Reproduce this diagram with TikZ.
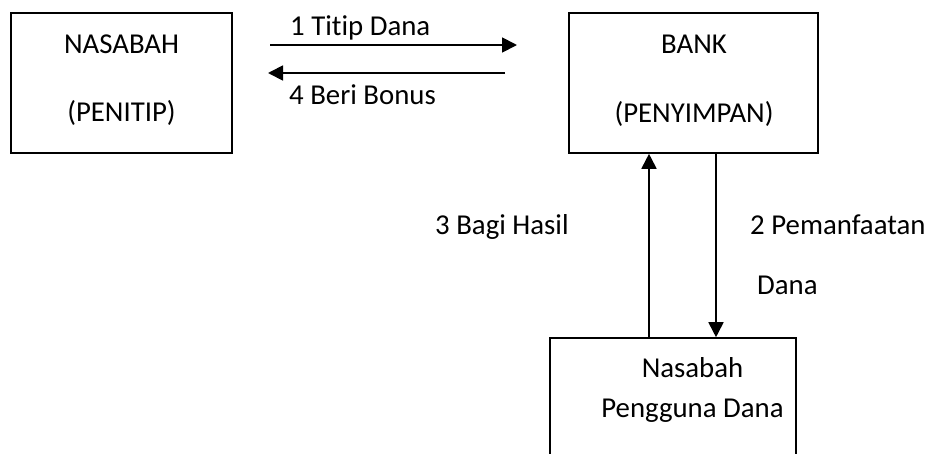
\documentclass[tikz,border=0pt]{standalone}
\usepackage{fontspec}
\setmainfont[Ligatures={NoCommon,NoContextual}]{Carlito}
\usetikzlibrary{arrows.meta}
\begin{document}
\begin{tikzpicture}[x=1pt,y=-1pt,
  box/.style={draw, line width=1.6pt, rectangle, inner sep=0pt},
  lbl/.style={inner sep=0pt, font=\fontsize{28.8}{34}\selectfont},
  arr/.style={line width=1.8pt, -{Triangle[length=15pt,width=15pt]}}]
\useasboundingbox (0,0) rectangle (937,453);
\clip (0,0) rectangle (937,453);
% boxes
\node[box, minimum width=221pt, minimum height=140pt] (nas) at (121.5,83) {};
\node[box, minimum width=249pt, minimum height=140pt] (bank) at (693.5,83) {};
\node[box, minimum width=246pt, minimum height=140pt] (user) at (673,408) {};
% box texts
\node[lbl, anchor=base] (t1) at (121.5,53) {NASABAH};
\node[lbl, anchor=base] (t2) at (121.5,121) {(PENITIP)};
\node[lbl, anchor=base] (t3) at (694,53) {BANK};
\node[lbl, anchor=base] (t4) at (694,122) {(PENYIMPAN)};
\node[lbl, anchor=base] (t5) at (692.5,377) {Nasabah};
\node[lbl, anchor=base] (t6) at (692.5,417) {Pengguna Dana};
% horizontal connectors
\coordinate (h1a) at (270,45);
\coordinate (h1b) at (517,45);
\coordinate (h2a) at (505,73);
\coordinate (h2b) at (268,73);
\draw[arr] (h1a) -- (h1b);
\draw[arr] (h2a) -- (h2b);
% vertical connectors
\coordinate (vu) at (649,0);
\coordinate (vd) at (716,0);
\draw[arr] (user.north -| vu) -- (bank.south -| vu);
\draw[arr] (bank.south -| vd) -- (user.north -| vd);
% labels
\node[lbl, anchor=base west] (l1) at (290,35) {1 Titip Dana};
\node[lbl, anchor=base west] (l4) at (289,104) {4 Beri Bonus};
\node[lbl, anchor=base west] (l3) at (435,234) {3 Bagi Hasil};
\node[lbl, anchor=base west] (l2) at (750,234) {2 Pemanfaatan};
\node[lbl, anchor=base west] (l2b) at (757,294) {Dana};
\end{tikzpicture}
\end{document}
